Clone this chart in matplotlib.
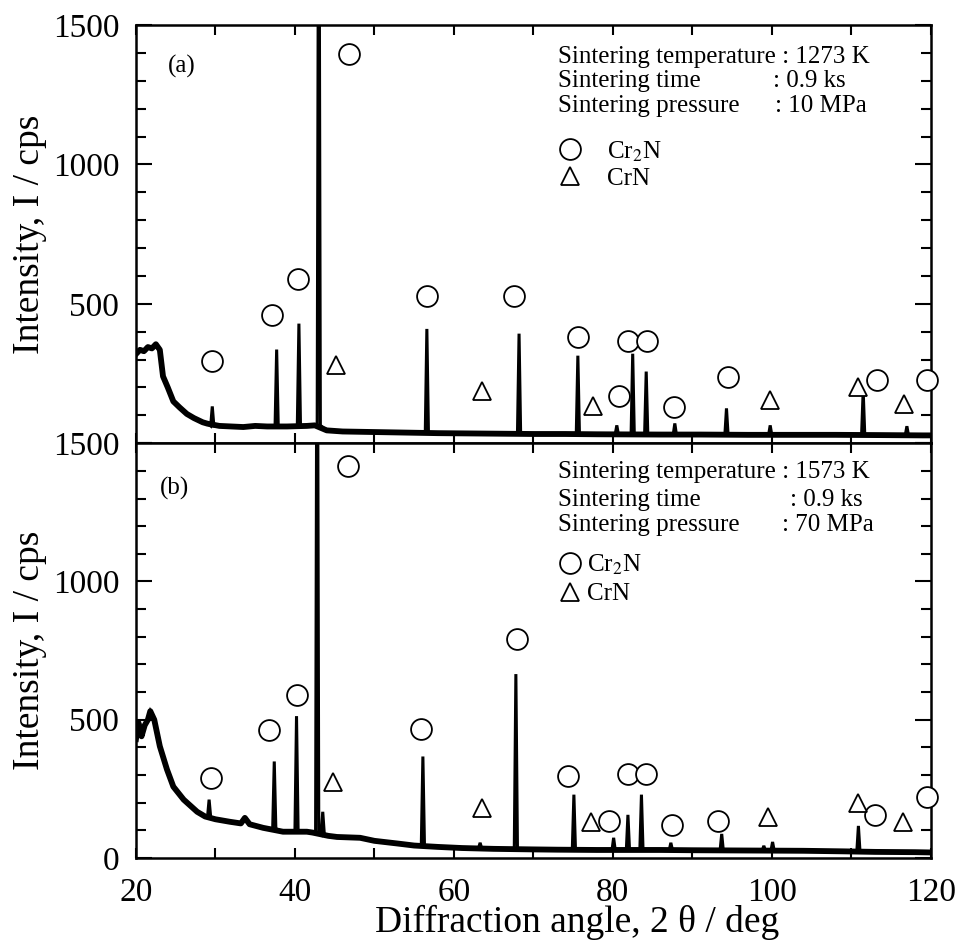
import matplotlib
matplotlib.use("Agg")
import matplotlib.pyplot as plt
from matplotlib.lines import Line2D
from matplotlib.ticker import MultipleLocator

plt.rcParams['font.family'] = ['Liberation Serif', 'DejaVu Serif']
plt.rcParams['mathtext.fontset'] = 'stix'

# ===========================
# (a) 1273 K / 0.9 ks / 10 MPa
# ===========================
bg_a_x = [20, 20.5, 21, 21.5, 22, 22.5, 23, 23.4, 24, 24.7, 25.5, 26.4, 27.3, 28.4, 29,
          30.5, 32, 33.5, 35, 36.5, 39, 41.5, 42.5, 44, 46, 50, 54, 58, 62, 66,
          70, 74, 78, 86, 91, 97, 103, 108, 114, 119, 120]
bg_a_y = [320, 335, 330, 345, 340, 355, 335, 240, 200, 150, 128, 105, 90, 75, 70,
          62, 60, 58, 62, 60, 60, 62, 64, 46, 42, 40, 38, 36, 35, 34,
          33, 33, 32, 31, 31, 30, 30, 30, 29, 28, 28]

peak_a_x = [29.6, 37.7, 40.5, 43.0, 56.6, 68.2, 75.6, 80.5, 82.5, 84.2, 87.8, 94.3, 99.8, 111.5, 117.0]
peak_a_top = [132, 336, 429, 2500, 410, 393, 314, 64, 321, 257, 71, 125, 64, 189, 61]
peak_a_base = [62, 60, 62, 64, 37, 34, 32, 32, 32, 32, 31, 31, 30, 30, 29]

cr2n_a_x = [29.6, 37.1, 40.4, 46.8, 56.6, 67.6, 75.6, 80.8, 81.9, 84.3, 87.7, 94.5, 113.3, 119.5]
cr2n_a_y = [296, 460, 589, 1397, 529, 529, 382, 171, 365, 365, 129, 239, 225, 228]
crn_a_x = [45.2, 63.5, 77.5, 99.8, 110.9, 116.6]
crn_a_y = [279, 186, 132, 154, 200, 139]

# ===========================
# (b) 1573 K / 0.9 ks / 70 MPa
# ===========================
bg_b_x = [20, 20.3, 20.7, 21.1, 21.5, 21.8, 22.3, 23, 23.9, 24.7,
          26, 27.7, 28.7, 30, 31.8, 33.2, 33.7, 34.3, 36, 38.5,
          39.5, 41.5, 42.2, 44.2, 45.3, 48.2, 50, 53, 55, 58,
          61, 65, 70, 73, 78, 86, 90, 97, 104, 109,
          113, 118, 120]
bg_b_y = [430, 490, 440, 480, 500, 531, 500, 404, 320, 258,
          211, 167, 150, 140, 131, 125, 145, 122, 109, 95,
          95, 95, 92, 80, 76, 73, 62, 52, 45, 40,
          36, 33, 31, 30, 29, 29, 28, 27, 26, 24,
          22, 21, 20]

peak_b_x = [29.2, 37.4, 40.2, 42.8, 43.5, 56.1, 63.3, 67.8, 75.1, 80.1, 81.9, 83.6, 87.3, 93.7, 99.0, 100.1, 110.9]
peak_b_top = [211, 349, 513, 2500, 167, 367, 55, 665, 229, 73, 156, 229, 55, 87, 44, 58, 116]
peak_b_base = [148, 106, 95, 93, 85, 44, 35, 32, 30, 29, 29, 29, 29, 28, 27, 27, 23]

cr2n_b_x = [29.4, 36.8, 40.2, 46.7, 55.8, 68.0, 74.3, 79.5, 81.9, 84.2, 87.5, 93.2, 113.0, 119.5]
cr2n_b_y = [291, 462, 589, 1418, 465, 793, 298, 135, 302, 302, 120, 135, 156, 222]
crn_b_x = [44.8, 63.5, 77.2, 99.5, 110.8, 116.5]
crn_b_y = [273, 182, 131, 149, 200, 131]

PEAK_HW = 0.2  # half width of a peak at its base, deg


def build_trace(bg_x, bg_y, px, ptop, pbase):
    pts = list(zip(bg_x, bg_y))
    for x, top, base in zip(px, ptop, pbase):
        pts += [(x - PEAK_HW, base), (x, top), (x + PEAK_HW, base)]
    pts.sort()
    xs, ys = zip(*pts)
    return xs, ys


def style_axes(ax):
    ax.set_xlim(20, 120)
    ax.set_ylim(0, 1500)
    ax.xaxis.set_major_locator(MultipleLocator(20))
    ax.xaxis.set_minor_locator(MultipleLocator(10))
    ax.yaxis.set_major_locator(MultipleLocator(500))
    ax.yaxis.set_minor_locator(MultipleLocator(100))
    ax.tick_params(which='both', direction='in', top=True, right=True,
                   width=1.5, labelsize=24, pad=12)
    ax.tick_params(axis='x', which='both', length=7, pad=14)
    ax.tick_params(axis='y', which='major', length=11.5)
    ax.tick_params(axis='y', which='minor', length=7)
    for s in ax.spines.values():
        s.set_linewidth(1.8)


def draw_panel(ax, bg, trace, cr2n, crn, tag, info, value_x, legend_y, textpad, spacing):
    # noisy background band drawn thicker than the sharp peaks
    ax.plot(bg[0], bg[1], color='black', lw=4.2, solid_joinstyle='round')
    ax.plot(trace[0], trace[1], color='black', lw=2.2, solid_joinstyle='miter')
    ax.plot(cr2n[0], cr2n[1], 'o', ms=15, mfc='white', mec='black', mew=1.3,
            ls='none', clip_on=False, zorder=4)
    ax.plot(crn[0], crn[1], '^', ms=13, mfc='white', mec='black', mew=1.3,
            ls='none', clip_on=False, zorder=4)
    ax.text(tag[0], tag[1], tag[2], transform=ax.transAxes, fontsize=18,
            ha='center', va='center')
    line_y = info[0]
    ax.text(0.531, line_y[0], info[1], transform=ax.transAxes, fontsize=18,
            ha='left', va='center')
    ax.text(0.531, line_y[1], "Sintering time", transform=ax.transAxes, fontsize=18,
            ha='left', va='center')
    ax.text(value_x[0], line_y[1], ": 0.9 ks", transform=ax.transAxes, fontsize=18,
            ha='left', va='center')
    ax.text(0.531, line_y[2], "Sintering pressure", transform=ax.transAxes, fontsize=18,
            ha='left', va='center')
    ax.text(value_x[1], line_y[2], info[2], transform=ax.transAxes, fontsize=18,
            ha='left', va='center')
    handles = [
        Line2D([], [], marker='o', ls='none', ms=15, mfc='white', mec='black', mew=1.3),
        Line2D([], [], marker='^', ls='none', ms=13, mfc='white', mec='black', mew=1.3),
    ]
    ax.legend(handles, ["Cr$_2$N", "CrN"], loc='upper left',
              bbox_to_anchor=(0.530, legend_y), frameon=False, fontsize=18,
              borderpad=0, borderaxespad=0, handlelength=1.0,
              handletextpad=textpad, labelspacing=spacing)


fig = plt.figure(figsize=(9.61, 9.47), dpi=100)
ax_a = fig.add_axes([0.1415, 0.532, 0.827, 0.4415])
ax_b = fig.add_axes([0.1415, 0.094, 0.827, 0.438])

for ax in (ax_a, ax_b):
    style_axes(ax)

draw_panel(ax_a, (bg_a_x, bg_a_y),
           build_trace(bg_a_x, bg_a_y, peak_a_x, peak_a_top, peak_a_base),
           (cr2n_a_x, cr2n_a_y), (crn_a_x, crn_a_y), (0.058, 0.90, "(a)"),
           ([0.923, 0.866, 0.806], "Sintering temperature : 1273 K", ": 10 MPa"),
           (0.801, 0.804), 0.727, 1.0, 0.15)
draw_panel(ax_b, (bg_b_x, bg_b_y),
           build_trace(bg_b_x, bg_b_y, peak_b_x, peak_b_top, peak_b_base),
           (cr2n_b_x, cr2n_b_y), (crn_b_x, crn_b_y), (0.048, 0.892, "(b)"),
           ([0.930, 0.863, 0.802], "Sintering temperature : 1573 K", ": 70 MPa"),
           (0.823, 0.813), 0.737, 0.2, 0.25)

ax_a.set_yticks([0, 500, 1000, 1500], ['', '500', '1000', '1500'])
ax_a.tick_params(labelbottom=False)
ax_b.set_yticks([0, 500, 1000, 1500], ['0', '500', '1000', '1500'])

for ax in (ax_a, ax_b):
    ax.set_ylabel("Intensity, I / cps", fontsize=27)
    ax.yaxis.set_label_coords(-0.112, 0.5)

ax_b.set_xlabel("Diffraction angle, 2 θ / deg", fontsize=27)
ax_b.xaxis.set_label_coords(0.555, -0.114)

fig.savefig("out.png", dpi=100)
